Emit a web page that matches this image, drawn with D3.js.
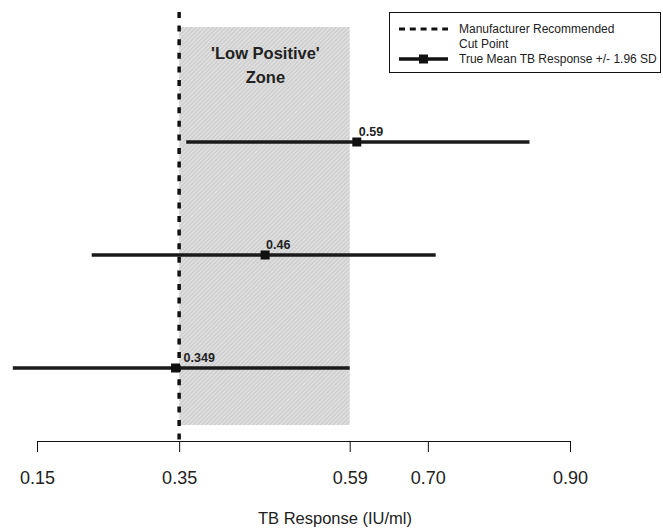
<!DOCTYPE html>
<html>
<head>
<meta charset="utf-8">
<script src="https://cdn.jsdelivr.net/npm/d3@7"></script>
<style>
  body { margin: 0; background: #fff; }
  svg { display: block; font-family: "Liberation Sans", Arial, sans-serif; }
</style>
</head>
<body>
<script>
// data
const rows = ["top", "middle", "bottom"];
const labels = ["0.59", "0.46", "0.349"];
const means = [0.600, 0.471, 0.345];
const lower = [0.360, 0.227, 0.116];
const upper = [0.843, 0.711, 0.590];
const cutPoint = 0.35;
const zone = [0.35, 0.59];
const tickValues = [0.15, 0.35, 0.59, 0.70, 0.90];

const W = 663, H = 529;
const svg = d3.select("body").append("svg")
    .attr("width", W)
    .attr("height", H);

const x = d3.scaleLinear().domain([0.15, 0.90]).range([37, 570]);
const y = d3.scalePoint().domain(rows).range([142, 368]);

// hatch pattern for the low positive zone
const defs = svg.append("defs");
const pat = defs.append("pattern")
    .attr("id", "hatch")
    .attr("patternUnits", "userSpaceOnUse")
    .attr("width", 3)
    .attr("height", 3)
    .attr("patternTransform", "rotate(45)");
pat.append("rect").attr("width", 3).attr("height", 3).attr("fill", "#d0d0d0");
pat.append("line")
    .attr("x1", 0.5).attr("y1", 0).attr("x2", 0.5).attr("y2", 3)
    .attr("stroke", "#e4e4e4").attr("stroke-width", 1);

// zone rectangle
svg.append("rect")
    .attr("x", x(zone[0]))
    .attr("y", 27)
    .attr("width", x(zone[1]) - x(zone[0]))
    .attr("height", 425 - 27)
    .attr("fill", "url(#hatch)");

// zone text
const zx = x((zone[0] + zone[1]) / 2) + 1;
svg.append("text")
    .attr("x", zx)
    .attr("y", 59)
    .attr("text-anchor", "middle")
    .attr("font-size", 16.5)
    .attr("font-weight", "bold")
    .attr("fill", "#222")
    .text("'Low Positive'");
svg.append("text")
    .attr("x", zx)
    .attr("y", 83)
    .attr("text-anchor", "middle")
    .attr("font-size", 16.5)
    .attr("font-weight", "bold")
    .attr("fill", "#222")
    .text("Zone");

// axis
const axis = svg.append("g")
    .attr("transform", "translate(0,441)")
    .call(d3.axisBottom(x)
        .tickValues(tickValues)
        .tickFormat(d3.format(".2f"))
        .tickSize(11)
        .tickSizeOuter(0)
        .tickPadding(19));
axis.select(".domain").attr("stroke", "#111");
axis.selectAll(".tick line").attr("stroke", "#111");
axis.selectAll(".tick text")
    .attr("font-size", 18)
    .attr("font-family", "Liberation Sans, Arial, sans-serif")
    .attr("fill", "#222");

// axis title (sits right of the axis centre in the original)
svg.append("text")
    .attr("x", 335)
    .attr("y", 524)
    .attr("text-anchor", "middle")
    .attr("font-size", 16.5)
    .attr("fill", "#222")
    .text("TB Response (IU/ml)");

// cut point line
svg.append("line")
    .attr("x1", x(cutPoint)).attr("x2", x(cutPoint))
    .attr("y1", 12).attr("y2", 447)
    .attr("stroke", "#111")
    .attr("stroke-width", 3.5)
    .attr("stroke-dasharray", "6,7.6");

// error bars
const labelDx = [2, 1, 8];
const bars = svg.append("g");
rows.forEach((r, i) => {
    bars.append("line")
        .attr("x1", x(lower[i])).attr("x2", x(upper[i]))
        .attr("y1", y(r)).attr("y2", y(r))
        .attr("stroke", "#1a1a1a")
        .attr("stroke-width", 3.5);
    bars.append("rect")
        .attr("x", x(means[i]) - 4.5)
        .attr("y", y(r) - 4.5)
        .attr("width", 9)
        .attr("height", 9)
        .attr("fill", "#111");
    bars.append("text")
        .attr("x", x(means[i]) + labelDx[i])
        .attr("y", y(r) - 6)
        .attr("font-size", 12.5)
        .attr("font-weight", "bold")
        .attr("fill", "#222")
        .text(labels[i]);
});

// legend
const leg = svg.append("g");
leg.append("rect")
    .attr("x", 389.5).attr("y", 12.5)
    .attr("width", 271).attr("height", 60)
    .attr("fill", "#fff")
    .attr("stroke", "#111");
leg.append("line")
    .attr("x1", 399).attr("x2", 448)
    .attr("y1", 29).attr("y2", 29)
    .attr("stroke", "#111")
    .attr("stroke-width", 3)
    .attr("stroke-dasharray", "6,4.8");
leg.append("line")
    .attr("x1", 399).attr("x2", 448)
    .attr("y1", 59).attr("y2", 59)
    .attr("stroke", "#111")
    .attr("stroke-width", 3.5);
leg.append("rect")
    .attr("x", 419).attr("y", 54.5)
    .attr("width", 9).attr("height", 9)
    .attr("fill", "#111");
const legText = [["Manufacturer Recommended", 33], ["Cut Point", 48], ["True Mean TB Response +/- 1.96 SD", 63]];
legText.forEach(t => {
    leg.append("text")
        .attr("x", 459)
        .attr("y", t[1])
        .attr("font-size", 12)
        .attr("fill", "#222")
        .text(t[0]);
});
</script>
</body>
</html>
